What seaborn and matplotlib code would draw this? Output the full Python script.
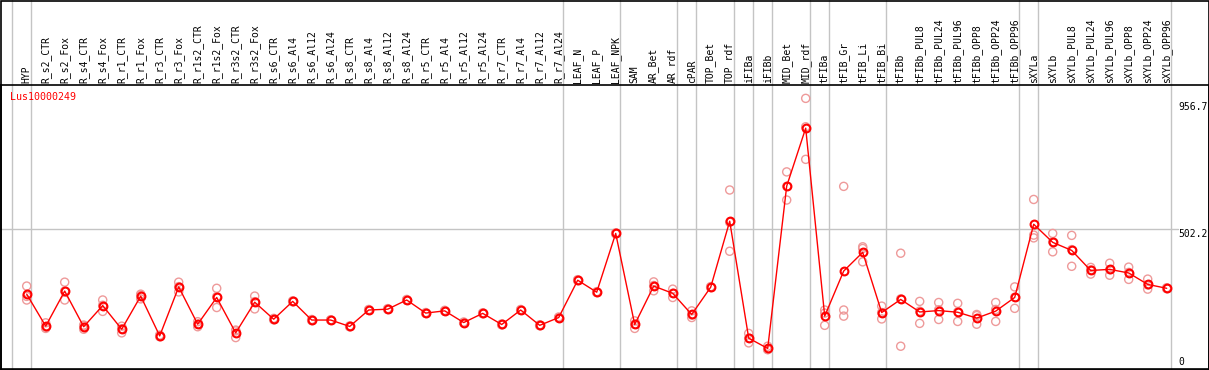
import numpy as np
import pandas as pd
import seaborn as sns
import matplotlib.pyplot as plt
from matplotlib.patches import Rectangle

# sample names (x categories)
samples = ['HYP', 'R_s2_CTR', 'R_s2_Fox', 'R_s4_CTR', 'R_s4_Fox', 'R_r1_CTR', 'R_r1_Fox',
           'R_r3_CTR', 'R_r3_Fox', 'R_r1s2_CTR', 'R_r1s2_Fox', 'R_r3s2_CTR', 'R_r3s2_Fox',
           'R_s6_CTR', 'R_s6_Al4', 'R_s6_Al12', 'R_s6_Al24', 'R_s8_CTR', 'R_s8_Al4',
           'R_s8_Al12', 'R_s8_Al24', 'R_r5_CTR', 'R_r5_Al4', 'R_r5_Al12', 'R_r5_Al24',
           'R_r7_CTR', 'R_r7_Al4', 'R_r7_Al12', 'R_r7_Al24', 'LEAF_N', 'LEAF_P', 'LEAF_NPK',
           'SAM', 'AR_Bet', 'AR_rdf', 'cPAR', 'TOP_Bet', 'TOP_rdf', 'iFIBa', 'iFIBb',
           'MID_Bet', 'MID_rdf', 'tFIBa', 'tFIB_Gr', 'tFIB_Li', 'tFIB_Bi', 'tFIBb',
           'tFIBb_PUL8', 'tFIBb_PUL24', 'tFIBb_PUL96', 'tFIBb_OPP8', 'tFIBb_OPP24',
           'tFIBb_OPP96', 'sXYLa', 'sXYLb', 'sXYLb_PUL8', 'sXYLb_PUL24', 'sXYLb_PUL96',
           'sXYLb_OPP8', 'sXYLb_OPP24', 'sXYLb_OPP96']

# mean expression per sample
means = [267, 152, 278, 150, 226, 141, 260, 117, 293, 159, 255, 128, 238,
         177, 241, 174, 174, 151, 210, 213, 246, 199, 207, 165, 198, 158, 210, 155, 183,
         317, 274, 485, 158, 296, 270, 194, 292, 529, 109, 72, 655, 863,
         188, 350, 417, 201, 248, 203, 208, 202, 181, 206, 255,
         518, 453, 424, 352, 356, 343, 302, 288]

# the three replicates
rep1 = [296, 164, 310, 156, 246, 152, 267, 120, 310, 168, 288, 138, 260,
        180, 243, 176, 175, 153, 212, 215, 248, 201, 209, 167, 200, 160, 212, 157, 185,
        319, 276, 487, 171, 311, 285, 207, 294, 641, 126, 80, 706, 970,
        210, 654, 437, 224, 414, 241, 237, 234, 194, 237, 293,
        607, 485, 478, 363, 378, 364, 321, 290]
rep2 = [246, 144, 246, 141, 205, 128, 250, 114, 275, 150, 219, 111, 214,
        175, 240, 172, 173, 150, 209, 212, 245, 198, 206, 164, 197, 157, 209, 154, 182,
        316, 273, 484, 144, 279, 255, 183, 291, 421, 92, 68, 605, 751,
        155, 210, 383, 178, 80, 162, 176, 169, 159, 169, 216,
        479, 419, 367, 339, 335, 320, 285, 287]
rep3 = [259, 148, 278, 153, 227, 143, 263, 117, 294, 159, 258, 135, 240,
        176, 240, 174, 174, 150, 209, 212, 245, 198, 206, 164, 197, 157, 209, 154, 182,
        316, 273, 484, 159, 298, 270, 192, 291, 525, 109, 68, 654, 868,
        199, 188, 431, 201, 250, 206, 211, 203, 190, 212, 256,
        469, 455, 427, 354, 355, 345, 300, 287]

# last sample of each group (grey separators)
group_ends = [-1, 0, 28, 31, 34, 35, 37, 38, 39, 41, 42, 45, 52, 53, 60]

axis_labels = [956.7, 502.2, 0]

pos = np.arange(len(samples))
reps = pd.DataFrame({
    'pos': np.tile(pos, 3),
    'value': rep1 + rep2 + rep3,
})

sns.set_style('white')
plt.rcParams['font.family'] = ['DejaVu Sans Mono']

W, H = 1209, 370
fig = plt.figure(figsize=(W / 100, H / 100), dpi=100)
top_px, bot_px, left_px, right_px = 85, 368.5, 1, 1208.5
ax = fig.add_axes([left_px / W, (H - bot_px) / H, (right_px - left_px) / W, (bot_px - top_px) / H])

# x: index i sits at pixel 26.7 + 19*i
ax.set_xlim((left_px - 26.7) / 19, (right_px - 26.7) / 19)
ax.set_ylim(0, 1018)

# grey separators reaching up into the label band
reach = bot_px / (bot_px - top_px)
for g in group_ends:
    ax.axvline(g + 0.2, ymin=0, ymax=reach, color='#c4c4c4', lw=1, clip_on=False, zorder=1)
ax.axhline(502.2, xmin=0, xmax=(1178 - left_px) / (right_px - left_px), color='#c4c4c4', lw=1, zorder=1)

sns.scatterplot(data=reps, x='pos', y='value', marker='o', s=34, facecolor='none',
                edgecolor='#ee9a9a', linewidth=1.0, ax=ax, zorder=2, legend=False)
sns.lineplot(x=pos, y=means, color='red', lw=1, marker='o', markersize=5.6,
             markerfacecolor='none', markeredgecolor='red', markeredgewidth=1.5,
             ax=ax, zorder=3, legend=False)

# sample names along the top
ax.xaxis.tick_top()
ax.set_xticks(pos)
ax.set_xticklabels(samples, rotation=90, fontsize=7, color='black')
ax.tick_params(axis='x', length=0, pad=1.5)
ax.set_yticks([])
ax.set_xlabel('')
ax.set_ylabel('')
for s in ax.spines.values():
    s.set_color('black')
    s.set_linewidth(1.2)

# value labels on the right
x_lab = (1178 - 26.7) / 19
ax.text(x_lab, axis_labels[0], '956.7', va='top', ha='left', fontsize=7, color='black')
ax.text(x_lab, axis_labels[1], '502.2', va='top', ha='left', fontsize=7, color='black')
ax.text(x_lab, 11, '0', va='baseline', ha='left', fontsize=7, color='black')

ax.text(9 / (right_px - left_px), 1 - 11.7 / (bot_px - top_px), 'Lus10000249',
        transform=ax.transAxes, va='center', ha='left', fontsize=7.2, color='red')

# outer frame
fig.patches.append(Rectangle((0.5 / W, 0.5 / H), (W - 1) / W, (H - 1) / H, transform=fig.transFigure,
                             fill=False, edgecolor='black', lw=1.2))

fig.savefig('out.png', dpi=100)
